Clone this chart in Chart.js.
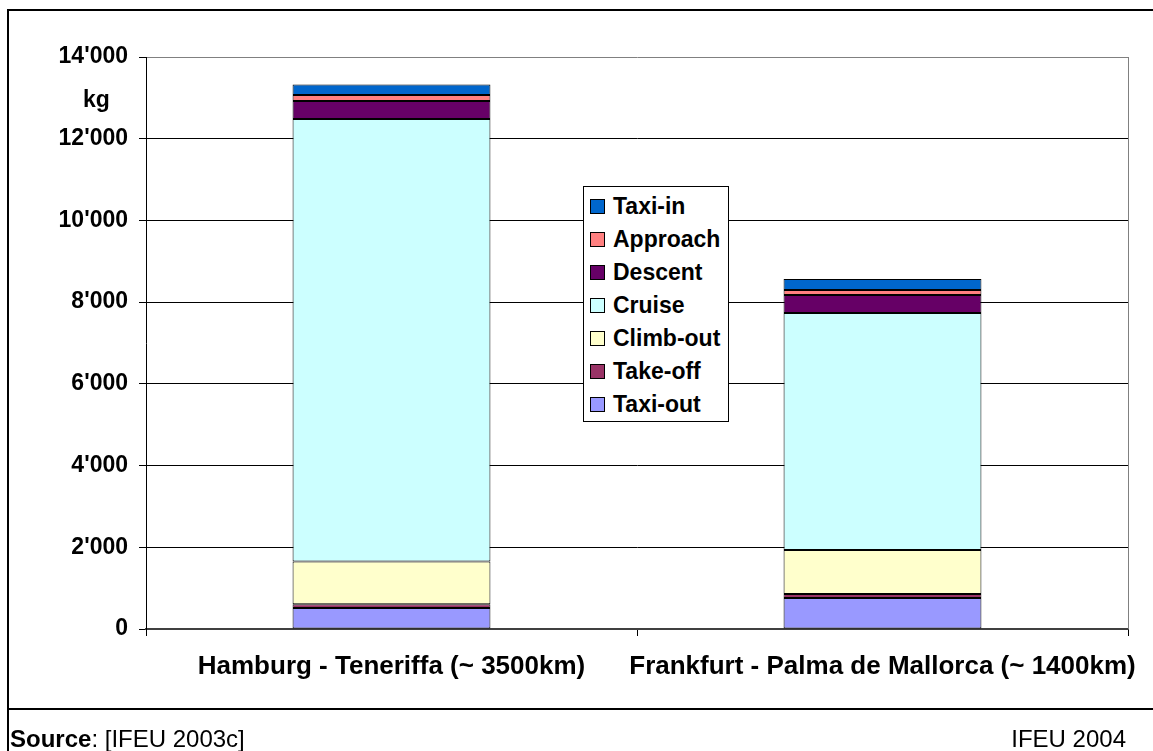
<!DOCTYPE html>
<html>
<head>
<meta charset="utf-8">
<script src="https://cdn.jsdelivr.net/npm/chart.js@4.4.1/dist/chart.umd.min.js"></script>
<style>
  html, body { margin: 0; padding: 0; background: #fff; }
  #wrap { position: relative; width: 1153px; height: 751px; overflow: hidden; font-family: "Liberation Sans", Arial, sans-serif; }
  #c { position: absolute; left: 0; top: 0; }
  .line { position: absolute; background: #000; }
  .txt { position: absolute; font-size: 24px; line-height: normal; color: #000; white-space: nowrap; }
  #legend { position: absolute; left: 583px; top: 186px; width: 146px; height: 236px; border: 1px solid #000; background: #fff; padding-top: 3px; box-sizing: border-box; }
  #legend .item { height: 33px; display: flex; align-items: center; font-weight: bold; font-size: 23px; }
  #legend .sw { width: 13px; height: 13px; border: 1px solid #000; margin-left: 6px; margin-right: 8px; flex: none; }
</style>
</head>
<body>
<div id="wrap">
  <canvas id="c" width="1153" height="751"></canvas>
  <div class="line" style="left:7px; top:9px; width:1146px; height:2px;"></div>
  <div class="line" style="left:7px; top:9px; width:2px; height:742px;"></div>
  <div class="line" style="left:7px; top:708px; width:1146px; height:2px;"></div>
  <div class="txt" style="left:83px; top:86px; font-weight:bold; font-size:23px;">kg</div>
  <div class="txt" style="left:10px; top:725px;"><b>Source</b>: [IFEU 2003c]</div>
  <div class="txt" style="right:27px; top:725px;">IFEU 2004</div>
  <div id="legend"></div>
</div>
<script>
const categories = ["Hamburg - Teneriffa (~ 3500km)", "Frankfurt - Palma de Mallorca (~ 1400km)"];
const seriesNames = ["Taxi-out", "Take-off", "Climb-out", "Cruise", "Descent", "Approach", "Taxi-in"];
const seriesColors = ["#9999FF", "#993366", "#FFFFCC", "#CCFFFF", "#660066", "#FF8080", "#0066CC"];
const taxiOut  = [515, 760];
const takeOff  = [90, 97];
const climbOut = [1045, 1077];
const cruise   = [10835, 5800];
const descent  = [440, 441];
const approach = [147, 123];
const taxiIn   = [253, 269];
const seriesValues = [taxiOut, takeOff, climbOut, cruise, descent, approach, taxiIn];
const yTicks = [0, 2000, 4000, 6000, 8000, 10000, 12000, 14000];

function fmt(v) { return String(v).replace(/\B(?=(\d{3})+(?!\d))/g, "'"); }

const FONT = "'Liberation Sans', Arial, sans-serif";

const plotBorder = {
  id: 'plotBorder',
  afterDraw(chart) {
    const a = chart.chartArea, ctx = chart.ctx;
    ctx.save();
    ctx.strokeStyle = '#808080';
    ctx.lineWidth = 1;
    ctx.beginPath();
    ctx.moveTo(a.right + 0.5, a.top);
    ctx.lineTo(a.right + 0.5, a.bottom);
    ctx.stroke();
    ctx.restore();
  }
};

const chart = new Chart(document.getElementById('c'), {
  type: 'bar',
  data: {
    labels: categories,
    datasets: seriesNames.map((n, i) => ({
      label: n,
      data: seriesValues[i],
      backgroundColor: seriesColors[i],
      borderColor: '#000',
      borderWidth: 1,
      borderSkipped: false,
      categoryPercentage: 1,
      barPercentage: 0.403
    }))
  },
  options: {
    responsive: false,
    animation: false,
    devicePixelRatio: 1,
    layout: { padding: { top: 57, right: 25, left: 0, bottom: 0 } },
    plugins: { legend: { display: false }, tooltip: { enabled: false } },
    scales: {
      x: {
        stacked: true,
        afterFit(s) { s.height = 122; s.paddingLeft = 0; s.paddingRight = 0; },
        grid: { drawOnChartArea: false, offset: true, tickLength: 7, color: '#000' },
        border: { color: '#404040', width: 2 },
        ticks: { color: '#000', padding: 15, autoSkip: false, font: { family: FONT, size: 26, weight: 'bold' }, maxRotation: 0, minRotation: 0 }
      },
      y: {
        stacked: true,
        min: 0, max: 14000,
        afterFit(s) { s.width = 146; s.paddingTop = 0; s.paddingBottom = 0; },
        afterBuildTicks(s) { s.ticks = yTicks.map(v => ({ value: v })); },
        grid: {
          color: ctx => (ctx.tick && ctx.tick.value === 14000) ? '#808080' : '#000',
          tickColor: '#000',
          tickLength: 7,
          lineWidth: 1
        },
        border: { color: '#000', width: 1 },
        ticks: { color: '#000', padding: 11, font: { family: FONT, size: 23, weight: 'bold' }, callback: v => fmt(v) }
      }
    }
  },
  plugins: [plotBorder]
});

const leg = document.getElementById('legend');
chart.data.datasets.slice().reverse().forEach(ds => {
  const it = document.createElement('div');
  it.className = 'item';
  const sw = document.createElement('span');
  sw.className = 'sw';
  sw.style.background = ds.backgroundColor;
  const t = document.createElement('span');
  t.textContent = ds.label;
  it.appendChild(sw); it.appendChild(t);
  leg.appendChild(it);
});
</script>
</body>
</html>
